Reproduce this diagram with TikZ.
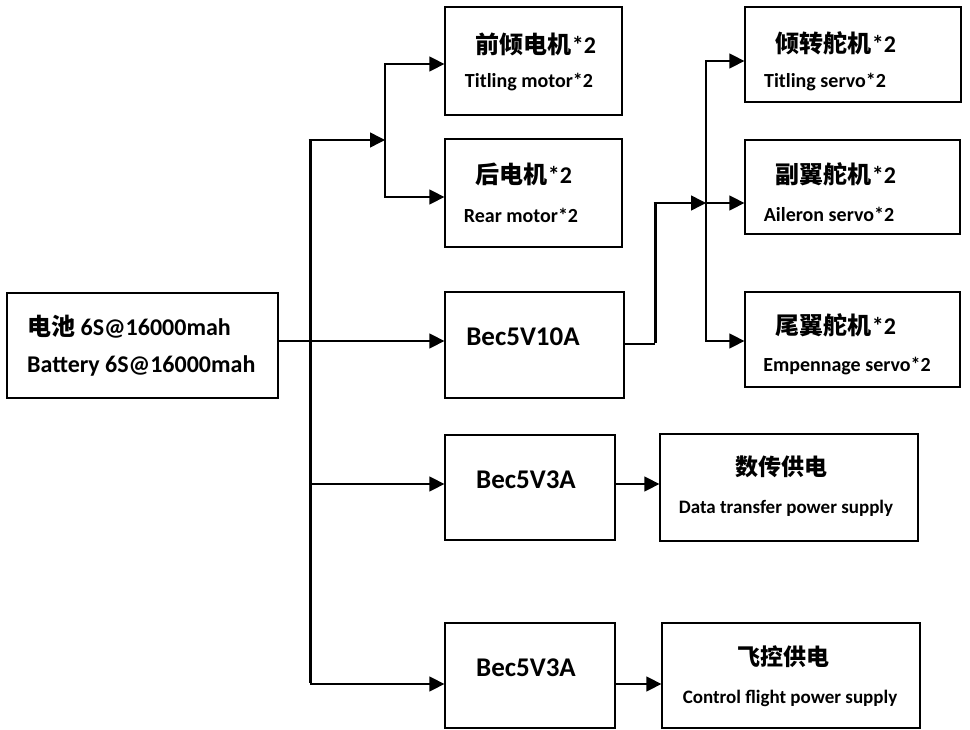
\documentclass[tikz,border=0pt]{standalone}
\usepackage{fontspec}
\setmainfont{Carlito}
\newfontfamily\cjk{Noto Sans CJK SC}
\usetikzlibrary{arrows.meta}
\newcommand\entxt[1]{{\rmfamily\bfseries #1}}
\begin{document}
\begin{tikzpicture}[x=1pt,y=-1pt,
  box/.style={draw,line width=1.3pt,inner sep=0pt,anchor=center},
  wire/.style={line width=1.5pt},
  bus/.style={line width=3pt},
  arr/.style={line width=1.5pt,-{Triangle[length=15pt,width=15pt]}},
  big/.style={font=\fontsize{27}{31}\selectfont\bfseries,inner sep=0pt},
  bat/.style={font=\fontsize{24}{28}\selectfont\bfseries,inner sep=0pt,anchor=west},
  small/.style={font=\fontsize{20}{23}\selectfont\bfseries,inner sep=0pt},
  smaller/.style={font=\fontsize{19}{22}\selectfont\bfseries,inner sep=0pt},
  zh/.style={font=\fontsize{24}{28}\selectfont\cjk\bfseries,inner sep=0pt},
  zhs/.style={font=\fontsize{23}{27}\selectfont\cjk\bfseries,inner sep=0pt}]
\useasboundingbox (0,0) rectangle (970,730);
% boxes
\node[box,minimum width=271pt,minimum height=105pt] (bat) at (142.5,345.5) {};
\node[box,minimum width=177pt,minimum height=108pt] (m1) at (533.5,61) {};
\node[box,minimum width=177pt,minimum height=108pt] (m2) at (533.5,193) {};
\node[box,minimum width=179pt,minimum height=106pt] (b10) at (534.5,345) {};
\node[box,minimum width=170pt,minimum height=105pt] (b3a) at (530,487.5) {};
\node[box,minimum width=170pt,minimum height=105pt] (b3b) at (530,675.5) {};
\node[box,minimum width=216pt,minimum height=95pt] (s1) at (853,54.5) {};
\node[box,minimum width=215pt,minimum height=94pt] (s2) at (852.5,187) {};
\node[box,minimum width=215pt,minimum height=95pt] (s3) at (852.5,339.5) {};
\node[box,minimum width=258pt,minimum height=107pt] (d) at (789,487.5) {};
\node[box,minimum width=258pt,minimum height=105pt] (c) at (791,675.5) {};
% texts
\node[bat] (batT1) at (27,327) {{\cjk\bfseries 电池} 6S@16000mah};
\node[bat] (batT2) at (27,366) {Battery 6S@16000mah};
\node[zh] (m1T) at (536,44) {前倾电机\entxt{*2}};
\node[small] (m1S) at (529,82) {Titling motor*2};
\node[zh] (m2T) at (524,174) {后电机\entxt{*2}};
\node[small] (m2S) at (521,215) {Rear motor*2};
\node[big] (b10T) at (523,337) {Bec5V10A};
\node[big] (b3aT) at (526,480) {Bec5V3A};
\node[big] (b3bT) at (526,668) {Bec5V3A};
\node[zh] (s1T) at (836,43) {倾转舵机\entxt{*2}};
\node[small] (s1S) at (825,82) {Titling servo*2};
\node[zh] (s2T) at (836,174) {副翼舵机\entxt{*2}};
\node[small] (s2S) at (829,214) {Aileron servo*2};
\node[zh] (s3T) at (836,325) {尾翼舵机\entxt{*2}};
\node[small] (s3S) at (847,366) {Empennage servo*2};
\node[zhs] (dT) at (781,467) {数传供电};
\node[smaller] (dS) at (786,508) {Data transfer power supply};
\node[zhs] (cT) at (783,657) {飞控供电};
\node[smaller] (cS) at (790,698) {Control flight power supply};
% junction coordinates
\coordinate (tTop) at (310,140);
\coordinate (tBot) at (310,684);
\coordinate (bj) at (310,341);
\coordinate (j484) at (310,484);
\coordinate (mb) at (385,140);
\coordinate (mbT) at (385,64);
\coordinate (mbB) at (385,197);
\coordinate (k1) at (655,344);
\coordinate (k2) at (655,203);
\coordinate (sj) at (706,203);
\coordinate (sT) at (706,61);
\coordinate (sB) at (706,341);
% connectors
\draw[bus] ([yshift=-1.5pt]tTop) -- ([yshift=1.5pt]tBot);
\draw[arr] (bat.east |- bj) -- (b10.west |- bj);
\draw[arr] ([xshift=-1.5pt]tTop) -- (mb);
\draw[wire] (mbT) -- (mbB);
\draw[arr] ([xshift=-0.75pt]mbT) -- (m1.west |- mbT);
\draw[arr] ([xshift=-0.75pt]mbB) -- (m2.west |- mbB);
\draw[arr] (j484) -- (b3a.west |- j484);
\draw[arr] (tBot) -- (b3b.west |- tBot);
\draw[wire] (b10.east |- k1) -- (k1);
\draw[bus] ([yshift=1.5pt]k1) -- ([yshift=-0.75pt]k2);
\draw[arr] ([xshift=-1.5pt]k2) -- (sj);
\draw[wire] (sT) -- (sB);
\draw[arr] ([xshift=-0.75pt]sT) -- (s1.west |- sT);
\draw[arr] (sj) -- (s2.west |- sj);
\draw[arr] ([xshift=-0.75pt]sB) -- (s3.west |- sB);
\draw[arr] (b3a.east |- j484) -- (d.west |- j484);
\draw[arr] (b3b.east |- tBot) -- (c.west |- tBot);
\end{tikzpicture}
\end{document}
